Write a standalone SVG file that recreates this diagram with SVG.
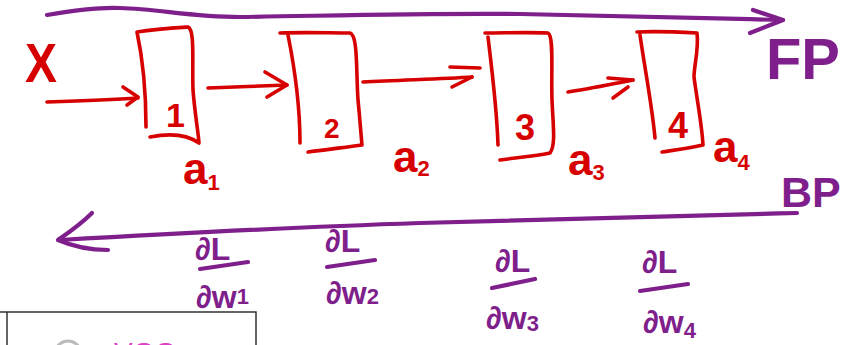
<svg xmlns="http://www.w3.org/2000/svg" width="846" height="345" viewBox="0 0 846 345">
<style>
.r{fill:none;stroke:#d70000;stroke-width:3.6;stroke-linecap:round;stroke-linejoin:round}
.p{fill:none;stroke:#7f1f8c;stroke-width:4.2;stroke-linecap:round;stroke-linejoin:round}
.rt{fill:#d70000;font-family:"Liberation Sans",Arial,sans-serif;font-weight:bold}
.pt{fill:#7f1f8c;font-family:"Liberation Sans",Arial,sans-serif;font-weight:bold}
.lab{font-size:44px}
.sub{font-size:22px}
.frac{font-size:32px}
</style>
<rect width="846" height="345" fill="#ffffff"/>

<g id="connectors">
  <path class="p" d="M47,15 C70,11 95,7 120,8 C160,9 190,17 240,17 C320,16 420,13 520,14 C620,16 700,18 783,20"/>
  <path class="p" d="M753,10 L783,20 L750,33"/>
  <path class="p" d="M797,213 C650,216 500,221 420,223 C300,227 200,232 60,240"/>
  <path class="p" stroke-width="6" d="M92,213 C80,225 68,233 58,240 C72,246 88,250 108,250"/>
  <path class="r" d="M47,102 C80,101 110,100 138,98"/>
  <path class="r" d="M123,87 L138,97 L127,105"/>
  <path class="r" d="M208,88 C235,87 260,86 287,85"/>
  <path class="r" d="M265,72 L287,85 L267,97"/>
  <path class="r" d="M363,82 C400,80 440,79 472,77"/>
  <path class="r" d="M450,67 L480,68 M452,87 L472,77"/>
  <path class="r" d="M568,92 C590,89 612,84 633,80"/>
  <path class="r" d="M608,78 L633,80 M613,98 L628,87"/>
</g>

<g id="input-x">
  <text class="rt" x="25" y="82" font-size="56" textLength="32" lengthAdjust="spacingAndGlyphs">X</text>
</g>

<g id="layer1">
  <path class="r" d="M137,32 C143,60 146,95 146,127 M137,32 C155,29 172,28 188,27 C195,30 192,60 193,90 C195,115 198,130 199,143 M150,137 C165,134 185,133 199,143"/>
  <text class="rt" x="166" y="127" font-size="34">1</text>
</g>
<g id="layer2">
  <path class="r" d="M280,33 C305,32 330,33 350,33 C358,35 356,70 358,100 C360,120 361,135 362,145 M288,35 C295,70 300,110 300,143 M308,152 C330,149 348,147 362,145"/>
  <text class="rt" x="324" y="138" font-size="28">2</text>
</g>
<g id="layer3">
  <path class="r" d="M485,33 C505,33 528,32 548,33 C554,36 551,70 552,100 C553,125 556,145 550,153 C535,156 515,158 500,160 M488,37 C492,70 497,110 498,145"/>
  <text class="rt" x="515" y="140" font-size="36">3</text>
</g>
<g id="layer4">
  <path class="r" d="M637,32 C657,31 678,32 697,33 C699,50 694,65 694,77 C697,100 702,125 703,145 C690,148 675,150 662,152 M640,35 C645,70 652,105 655,138"/>
  <text class="rt" x="668" y="138" font-size="36">4</text>
</g>

<g id="activations">
  <text class="rt lab" x="183" y="184">a<tspan class="sub" dy="6">1</tspan></text>
  <text class="rt lab" x="393" y="172">a<tspan class="sub" dy="4">2</tspan></text>
  <text class="rt lab" x="568" y="175">a<tspan class="sub" dy="5">3</tspan></text>
  <text class="rt lab" x="713" y="162">a<tspan class="sub" dy="8">4</tspan></text>
</g>

<g id="fp-label">
  <text class="pt" x="766" y="79" font-size="58" textLength="74" lengthAdjust="spacingAndGlyphs">FP</text>
</g>
<g id="bp-label">
  <text class="pt" x="781" y="207" font-size="43">BP</text>
</g>

<g id="grad1">
  <text class="pt frac" x="195" y="260">∂L</text>
  <path class="p" d="M200,269 L248,262"/>
  <text class="pt frac" x="196" y="308">∂w<tspan class="sub" dy="-4">1</tspan></text>
</g>
<g id="grad2">
  <text class="pt frac" x="325" y="252">∂L</text>
  <path class="p" d="M327,267 L375,260"/>
  <text class="pt frac" x="326" y="304">∂w<tspan class="sub" dy="0">2</tspan></text>
</g>
<g id="grad3">
  <text class="pt frac" x="495" y="272">∂L</text>
  <path class="p" d="M492,288 L535,279"/>
  <text class="pt frac" x="486" y="329">∂w<tspan class="sub" dy="2">3</tspan></text>
</g>
<g id="grad4">
  <text class="pt frac" x="642" y="273">∂L</text>
  <path class="p" d="M640,291 L688,284"/>
  <text class="pt frac" x="643" y="333">∂w<tspan class="sub" dy="5">4</tspan></text>
</g>

<g id="panel">
  <path d="M0,312 L256,312 L256,345 M7,312 L7,345" fill="none" stroke="#333333" stroke-width="1.5"/>
  <circle cx="68" cy="354" r="13" fill="none" stroke="#bbbbbb" stroke-width="3"/>
  <text x="114" y="362" font-family="Liberation Sans,Arial,sans-serif" font-size="28" fill="#e040c8">VGG</text>
</g>
</svg>
